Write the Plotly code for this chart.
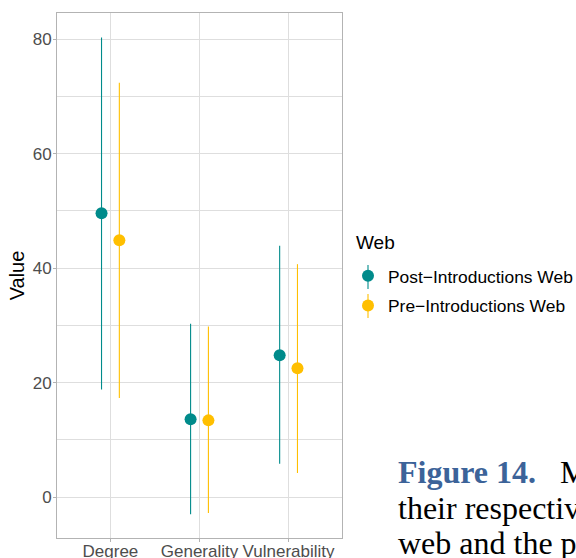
import plotly.graph_objects as go

categories = ["Degree", "Generality", "Vulnerability"]
series_names = ["Post\u2212Introductions Web", "Pre\u2212Introductions Web"]
post_values = [49.6, 13.6, 24.8]
post_low = [18.8, -3.0, 5.8]
post_high = [80.3, 30.3, 43.9]
pre_values = [44.9, 13.4, 22.5]
pre_low = [17.3, -2.8, 4.2]
pre_high = [72.4, 29.8, 40.7]
y_ticks = [0, 20, 40, 60, 80]

colors = ["#008B8B", "#FFBF00"]
dodge = [-0.1, 0.1]
FONT = "Liberation Sans, Arial, sans-serif"

fig = go.Figure()
series = [(post_values, post_low, post_high), (pre_values, pre_low, pre_high)]
for i, (vals, lo, hi) in enumerate(series):
    xs = [k + 1 + dodge[i] for k in range(len(categories))]
    fig.add_trace(go.Scatter(
        x=xs, y=vals, mode="markers", name=series_names[i],
        legendgroup=series_names[i],
        marker=dict(color=colors[i], size=12),
        error_y=dict(type="data", symmetric=False,
                     array=[h - v for h, v in zip(hi, vals)],
                     arrayminus=[v - l for v, l in zip(vals, lo)],
                     color=colors[i], thickness=1.1, width=0),
    ))

L, R, T, B = 57, 234, 13, 20
W, H = 576, 558
pw, ph = W - L - R, H - T - B

def px_x(px):
    return (px - L) / pw

def px_y(py):
    return (H - B - py) / ph

# vertical lines through legend keys (pointrange glyph)
shapes = []
for cy, c in [(277, colors[0]), (306, colors[1])]:
    shapes.append(dict(type="line", xref="paper", yref="paper",
                       x0=px_x(368), x1=px_x(368), y0=px_y(cy - 12), y1=px_y(cy + 12),
                       line=dict(color=c, width=1.1), layer="above"))

serif = dict(family="Liberation Serif, Times New Roman, serif", size=32, color="#000000")
annotations = [
    dict(text="Web", xref="paper", yref="paper", x=px_x(354), y=px_y(242),
         xanchor="left", yanchor="middle", showarrow=False,
         font=dict(family=FONT, size=19, color="#000000")),
    dict(text="<span style='color:#3C6399'><b>Figure 14.</b></span>\u00a0\u00a0\u00a0M",
         xref="paper", yref="paper", x=px_x(396), y=px_y(472), xanchor="left", yanchor="middle",
         showarrow=False, font=serif),
    dict(text="their respective",
         xref="paper", yref="paper", x=px_x(396), y=px_y(508), xanchor="left", yanchor="middle",
         showarrow=False, font=serif),
    dict(text="web and the p",
         xref="paper", yref="paper", x=px_x(396), y=px_y(543), xanchor="left", yanchor="middle",
         showarrow=False, font=serif),
]

fig.update_layout(
    width=W, height=H,
    margin=dict(l=L, r=R, t=T, b=B, autoexpand=False),
    paper_bgcolor="white", plot_bgcolor="white",
    font=dict(family=FONT, color="#4D4D4D"),
    showlegend=True,
    legend=dict(font=dict(size=17.4, color="#000000"),
                x=px_x(348), xanchor="left", y=px_y(258), yanchor="top",
                tracegroupgap=4, bgcolor="rgba(0,0,0,0)"),
    shapes=shapes,
    annotations=annotations,
    xaxis=dict(range=[0.4, 3.6], tickvals=[1, 2, 3], ticktext=categories,
               showgrid=True, gridcolor="#DEDEDE", gridwidth=1, zeroline=False,
               showline=True, mirror=True, linecolor="#B3B3B3", linewidth=1,
               ticks="outside", ticklen=3, tickcolor="#B3B3B3",
               ticklabelstandoff=-5,
               tickfont=dict(size=17, color="#4D4D4D")),
    yaxis=dict(range=[-7.16, 84.6], tickvals=y_ticks,
               showgrid=True, gridcolor="#DEDEDE", gridwidth=1, zeroline=False,
               minor=dict(dtick=10, tick0=0, showgrid=True, gridcolor="#DEDEDE", gridwidth=0.8, ticks=""),
               showline=True, mirror=True, linecolor="#B3B3B3", linewidth=1,
               ticks="outside", ticklen=3, tickcolor="#B3B3B3",
               ticklabelstandoff=-2,
               tickfont=dict(size=17, color="#4D4D4D")),
)
fig.update_yaxes(title=dict(text="Value", font=dict(size=20, color="#000000"), standoff=2))

fig.write_html("out.html")
